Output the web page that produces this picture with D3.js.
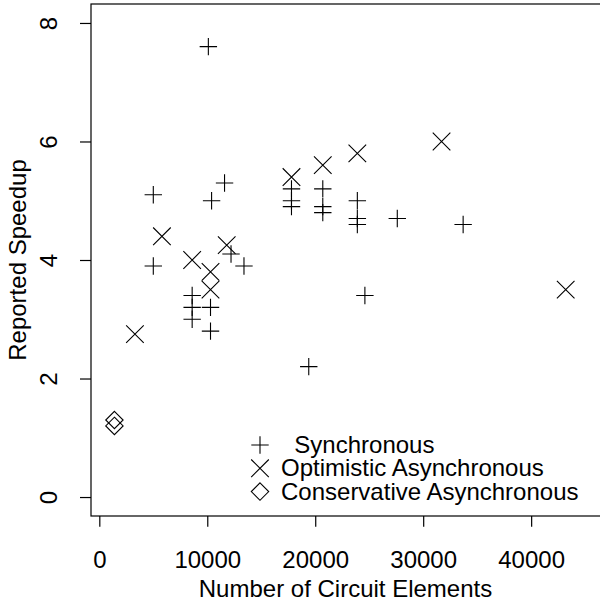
<!DOCTYPE html>
<html>
<head>
<meta charset="utf-8">
<script src="https://cdn.jsdelivr.net/npm/d3@7"></script>
<style>
  body { margin: 0; background: #fff; }
  text { font-family: "Liberation Sans", Arial, Helvetica, sans-serif; fill: #000; }
</style>
</head>
<body>
<script>
// data
var syncX = [5000, 11600, 10400, 12200, 13400, 5000, 8600, 8600, 10300, 8600, 10300, 10100,
             17800, 17800, 17800, 20700, 20700, 20700, 23900, 23900, 23900, 27600, 33700, 24600, 19400]
var syncY = [5.1, 5.3, 5.0, 4.1, 3.9, 3.9, 3.4, 3.2, 3.2, 3.0, 2.8, 7.6,
             5.2, 5.0, 4.9, 5.2, 4.9, 4.8, 5.0, 4.7, 4.6, 4.7, 4.6, 3.4, 2.2]
var optX = [5800, 11800, 8600, 10300, 10300, 3300, 17800, 20700, 23900, 31700, 43200]
var optY = [4.4, 4.25, 4.0, 3.8, 3.5, 2.75, 5.4, 5.6, 5.8, 6.0, 3.5]
var consX = [1400, 1400]
var consY = [1.3, 1.2]

var xTicks = [0, 10000, 20000, 30000, 40000]
var yTicks = [0, 2, 4, 6, 8]
var legendLabels = ["  Synchronous", "Optimistic Asynchronous", "Conservative Asynchronous"]

var width = 600, height = 602
// plot box (note: "top" is taken by window, so use p-names)
var pLeft = 91, pRight = 601, pTop = 4, pBottom = 516

var svg = d3.select("body").append("svg")
    .attr("width", width)
    .attr("height", height)

var x = d3.scaleLinear().domain([-770, 46470]).range([pLeft, pRight])
var y = d3.scaleLinear().domain([-0.32, 8.32]).range([pBottom, pTop])

// box
svg.append("rect")
    .attr("x", pLeft).attr("y", pTop)
    .attr("width", pRight - pLeft).attr("height", pBottom - pTop)
    .attr("fill", "none").attr("stroke", "#000").attr("stroke-width", 1.2)

// x axis
var gx = svg.append("g")
    .attr("transform", "translate(0," + pBottom + ")")
    .call(d3.axisBottom(x).tickValues(xTicks).tickSize(10.7).tickFormat(d3.format("d")))
gx.select(".domain").remove()
gx.selectAll("line").attr("stroke", "#000").attr("stroke-width", 1.2)
gx.selectAll("text")
    .attr("y", 52).attr("dy", 0)
    .style("font-size", "24px")
    .style("font-family", "Liberation Sans, Arial, sans-serif")

// y axis, labels turned like R does
var gy = svg.append("g")
    .attr("transform", "translate(" + pLeft + ",0)")
    .call(d3.axisLeft(y).tickValues(yTicks).tickSize(11))
gy.select(".domain").remove()
gy.selectAll("line").attr("stroke", "#000").attr("stroke-width", 1.2)
gy.selectAll("text")
    .attr("transform", "rotate(-90)")
    .attr("x", 0).attr("y", -34).attr("dy", 0)
    .attr("text-anchor", "middle")
    .style("font-size", "24px")
    .style("font-family", "Liberation Sans, Arial, sans-serif")

// axis titles
svg.append("text")
    .attr("x", (pLeft + 600) / 2).attr("y", 597)
    .attr("text-anchor", "middle")
    .style("font-size", "24px")
    .text("Number of Circuit Elements")

svg.append("text")
    .attr("transform", "translate(26," + (pTop + pBottom) / 2 + ") rotate(-90)")
    .attr("text-anchor", "middle")
    .style("font-size", "24px")
    .text("Reported Speedup")

// marker shapes
var a = 8.7
function plusPath(cx, cy) {
    return "M" + (cx - a) + "," + cy + "H" + (cx + a) + "M" + cx + "," + (cy - a) + "V" + (cy + a)
}
function crossPath(cx, cy) {
    var b = 8.8
    return "M" + (cx - b) + "," + (cy - b) + "L" + (cx + b) + "," + (cy + b) +
           "M" + (cx - b) + "," + (cy + b) + "L" + (cx + b) + "," + (cy - b)
}
function diamondPath(cx, cy) {
    return "M" + cx + "," + (cy - a) + "L" + (cx + a) + "," + cy + "L" + cx + "," + (cy + a) +
           "L" + (cx - a) + "," + cy + "Z"
}
var shapes = [plusPath, crossPath, diamondPath]

var series = [
    { xs: syncX, ys: syncY, shape: plusPath },
    { xs: optX, ys: optY, shape: crossPath },
    { xs: consX, ys: consY, shape: diamondPath }
]

series.forEach(function(s) {
    svg.append("g").selectAll("path")
        .data(s.xs.map(function(v, i) { return [v, s.ys[i]] }))
        .join("path")
        .attr("d", function(d) { return s.shape(x(d[0]), y(d[1])) })
        .attr("fill", "none")
        .attr("stroke", "#000")
        .attr("stroke-width", 1.1)
})

// legend
var legend = svg.append("g")
legendLabels.forEach(function(label, i) {
    var cy = 445 + i * 23.3
    legend.append("path")
        .attr("d", shapes[i](260, cy))
        .attr("fill", "none").attr("stroke", "#000").attr("stroke-width", 1.1)
    legend.append("text")
        .attr("x", 281).attr("y", cy + 8)
        .style("font-size", "24px")
        .style("white-space", "pre")
        .text(label)
})
</script>
</body>
</html>
